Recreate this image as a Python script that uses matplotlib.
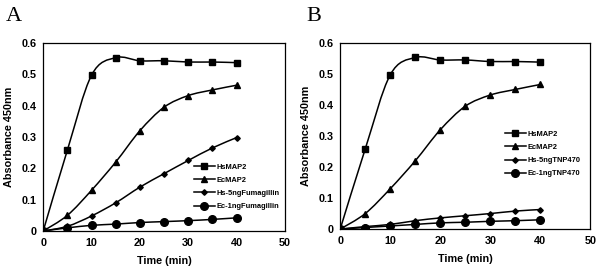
import numpy as np
import matplotlib.pyplot as plt
from matplotlib.path import Path
from matplotlib.patches import PathPatch
from matplotlib.lines import Line2D

plt.rcParams['font.family'] = ['Liberation Sans', 'DejaVu Sans']

time = [0, 5, 10, 15, 20, 25, 30, 35, 40]

# panel A
hs_map2_a = [0, 0.258, 0.497, 0.553, 0.543, 0.543, 0.539, 0.539, 0.537]
ec_map2_a = [0, 0.050, 0.130, 0.220, 0.320, 0.395, 0.432, 0.450, 0.465]
hs_fum = [0, 0.015, 0.048, 0.090, 0.140, 0.183, 0.225, 0.265, 0.298]
ec_fum = [0, 0.010, 0.018, 0.022, 0.027, 0.030, 0.033, 0.037, 0.042]
labels_a = ['HsMAP2', 'EcMAP2', 'Hs-5ngFumagillin', 'Ec-1ngFumagillin']

# panel B
hs_map2_b = [0, 0.258, 0.497, 0.553, 0.545, 0.545, 0.540, 0.540, 0.538]
ec_map2_b = [0, 0.050, 0.130, 0.220, 0.320, 0.396, 0.432, 0.450, 0.466]
hs_tnp = [0, 0.008, 0.015, 0.027, 0.036, 0.043, 0.050, 0.058, 0.063]
ec_tnp = [0, 0.005, 0.010, 0.015, 0.020, 0.022, 0.025, 0.027, 0.030]
labels_b = ['HsMAP2', 'EcMAP2', 'Hs-5ngTNP470', 'Ec-1ngTNP470']

markers = ['s', '^', 'D', 'o']
msizes = [4.5, 5, 2.8, 5.5]


def smooth_path(x, y):
    # catmull-rom style smoothing like excel's "smoothed line"
    p = np.column_stack([x, y]).astype(float)
    verts = [p[0]]
    codes = [Path.MOVETO]
    n = len(p)
    for i in range(n - 1):
        p0 = p[i - 1] if i > 0 else p[i]
        p3 = p[i + 2] if i + 2 < n else p[i + 1]
        c1 = p[i] + (p[i + 1] - p0) / 6
        c2 = p[i + 1] - (p3 - p[i]) / 6
        verts += [c1, c2, p[i + 1]]
        codes += [Path.CURVE4] * 3
    return Path(verts, codes)


def panel(ax, series, labels, leg_anchor):
    for ys, m, ms in zip(series, markers, msizes):
        ax.add_patch(PathPatch(smooth_path(time, ys), fill=False, lw=1.1, ec='black'))
        ax.plot(time, ys, ls='none', marker=m, ms=ms, color='black')
    ax.set_xlim(0, 50)
    ax.set_ylim(0, 0.6)
    ax.set_xticks([0, 10, 20, 30, 40, 50])
    ax.set_yticks([0, 0.1, 0.2, 0.3, 0.4, 0.5, 0.6])
    ax.set_yticklabels(['0', '0.1', '0.2', '0.3', '0.4', '0.5', '0.6'])
    ax.tick_params(length=0, labelsize=7.8, pad=5)
    for t in ax.get_xticklabels() + ax.get_yticklabels():
        t.set_fontweight('bold')
    for s in ax.spines.values():
        s.set_linewidth(0.9)
    ax.set_xlabel('Time (min)', fontsize=7.8, fontweight='bold', labelpad=6)
    ax.set_ylabel('Absorbance 450nm', fontsize=7.8, fontweight='bold', labelpad=5)
    handles = [Line2D([], [], color='black', lw=1.1, marker=m, ms=ms) for m, ms in zip(markers, msizes)]
    ax.legend(handles, labels, loc='upper left', bbox_to_anchor=leg_anchor, frameon=False,
              prop={'size': 5.4, 'weight': 'bold'}, handlelength=2.7, handletextpad=0.3,
              labelspacing=0.8, borderpad=0, borderaxespad=0)


fig = plt.figure(figsize=(6, 2.75), dpi=100)
ax1 = fig.add_axes([0.072, 0.16, 0.403, 0.684])
ax2 = fig.add_axes([0.567, 0.167, 0.417, 0.677])

panel(ax1, [hs_map2_a, ec_map2_a, hs_fum, ec_fum], labels_a, (0.625, 0.36))
panel(ax2, [hs_map2_b, ec_map2_b, hs_tnp, ec_tnp], labels_b, (0.66, 0.53))

serif = ['Liberation Serif', 'DejaVu Serif']
fig.text(0.01, 0.925, 'A', fontsize=16, family=serif, va='baseline')
fig.text(0.51, 0.925, 'B', fontsize=16, family=serif, va='baseline')

fig.savefig('out.png', dpi=100)
